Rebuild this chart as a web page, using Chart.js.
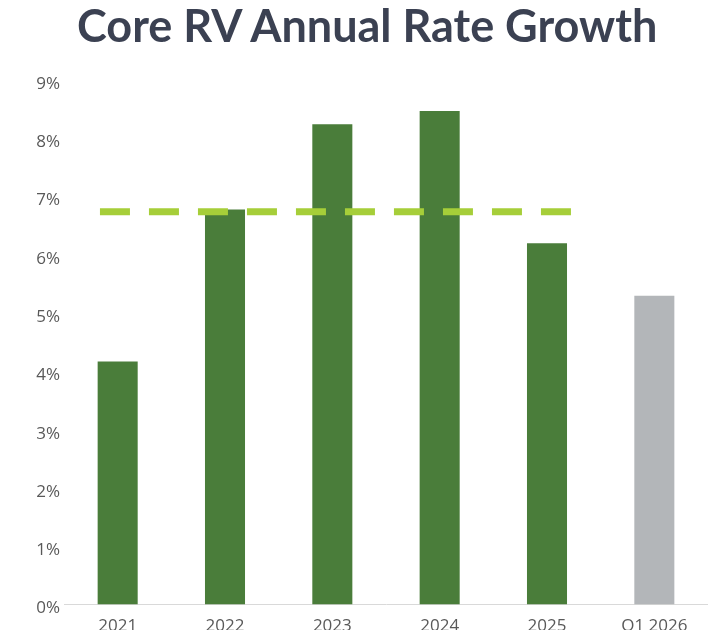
<!DOCTYPE html>
<html>
<head>
<meta charset="utf-8">
<script src="https://cdn.jsdelivr.net/npm/chart.js@4"></script>
<style>
html,body{margin:0;padding:0;background:#fff;overflow:hidden;}
#wrap{position:relative;width:708px;height:647px;}
#title{position:absolute;left:77px;top:3px;margin:0;font-family:'Lato',sans-serif;font-weight:700;font-size:45px;line-height:45px;color:#3b4152;white-space:nowrap;}
</style>
</head>
<body>
<div id="wrap">
<canvas id="c"></canvas>
<div id="title">Core RV Annual Rate Growth</div>
</div>
<script>
const categories = ['2021', '2022', '2023', '2024', '2025', 'Q1 2026'];
const growthValues = [4.17, 6.78, 8.24, 8.47, 6.2, 5.3];
const barColors = ['#4a7d3a', '#4a7d3a', '#4a7d3a', '#4a7d3a', '#4a7d3a', '#b3b6b9'];
const averageLevel = 6.74;
const averageSpan = [-0.165, 4.23];
const yTicks = [0, 1, 2, 3, 4, 5, 6, 7, 8, 9];

const avgPoints = averageSpan.map(x => ({x: x, y: averageLevel}));

new Chart(document.getElementById('c'), {
  data: {
    labels: categories,
    datasets: [
      {
        type: 'line',
        data: avgPoints,
        xAxisID: 'x2',
        borderColor: '#a6ce39',
        borderWidth: 7,
        borderDash: [30, 19],
        borderCapStyle: 'butt',
        pointRadius: 0,
        fill: false,
        order: 0
      },
      {
        type: 'bar',
        data: growthValues,
        backgroundColor: barColors,
        grouped: false,
        barPercentage: 0.373,
        categoryPercentage: 1.0,
        order: 1
      }
    ]
  },
  options: {
    responsive: true,
    maintainAspectRatio: false,
    animation: false,
    layout: {padding: {left: 30, right: 0, top: 80, bottom: 0}},
    plugins: {
      legend: {display: false},
      tooltip: {enabled: false},
      title: {display: false}
    },
    scales: {
      x: {
        type: 'category',
        grid: {display: false, drawTicks: false},
        border: {display: true, color: '#d9d9d9', width: 1},
        ticks: {color: '#595959', font: {family: 'Open Sans', size: 17}, padding: 11, maxRotation: 0}
      },
      x2: {
        type: 'linear',
        display: false,
        min: -0.5,
        max: 5.5,
        offset: false
      },
      y: {
        min: 0,
        max: 9,
        afterBuildTicks: (axis) => { axis.ticks = yTicks.map(v => ({value: v})); },
        afterFit: (axis) => { axis.width = 34; },
        grid: {display: false, drawTicks: false},
        border: {display: false},
        ticks: {
          color: '#595959',
          font: {family: 'Open Sans', size: 17},
          padding: 4,
          labelOffset: 4,
          callback: v => v + '%'
        }
      }
    }
  }
});
</script>
</body>
</html>
